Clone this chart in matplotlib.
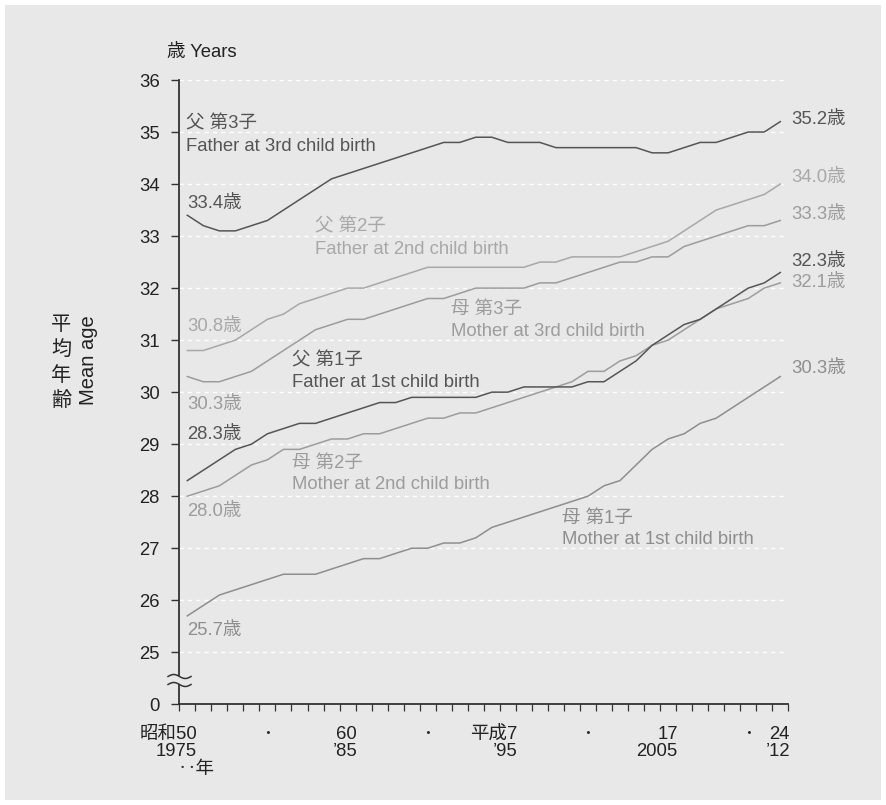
import numpy as np
import matplotlib
matplotlib.use("Agg")
import matplotlib.pyplot as plt
from matplotlib.patches import Rectangle

plt.rcParams['font.family'] = ['Liberation Sans', 'Noto Sans CJK JP', 'DejaVu Sans']

# ---------------- data ----------------
years = np.arange(1975, 2013)

father_3rd = [33.4, 33.2, 33.1, 33.1, 33.2, 33.3, 33.5, 33.7, 33.9, 34.1,
              34.2, 34.3, 34.4, 34.5, 34.6, 34.7, 34.8, 34.8, 34.9, 34.9,
              34.8, 34.8, 34.8, 34.7, 34.7, 34.7, 34.7, 34.7, 34.7, 34.6,
              34.6, 34.7, 34.8, 34.8, 34.9, 35.0, 35.0, 35.2]
father_2nd = [30.8, 30.8, 30.9, 31.0, 31.2, 31.4, 31.5, 31.7, 31.8, 31.9,
              32.0, 32.0, 32.1, 32.2, 32.3, 32.4, 32.4, 32.4, 32.4, 32.4,
              32.4, 32.4, 32.5, 32.5, 32.6, 32.6, 32.6, 32.6, 32.7, 32.8,
              32.9, 33.1, 33.3, 33.5, 33.6, 33.7, 33.8, 34.0]
mother_3rd = [30.3, 30.2, 30.2, 30.3, 30.4, 30.6, 30.8, 31.0, 31.2, 31.3,
              31.4, 31.4, 31.5, 31.6, 31.7, 31.8, 31.8, 31.9, 32.0, 32.0,
              32.0, 32.0, 32.1, 32.1, 32.2, 32.3, 32.4, 32.5, 32.5, 32.6,
              32.6, 32.8, 32.9, 33.0, 33.1, 33.2, 33.2, 33.3]
father_1st = [28.3, 28.5, 28.7, 28.9, 29.0, 29.2, 29.3, 29.4, 29.4, 29.5,
              29.6, 29.7, 29.8, 29.8, 29.9, 29.9, 29.9, 29.9, 29.9, 30.0,
              30.0, 30.1, 30.1, 30.1, 30.1, 30.2, 30.2, 30.4, 30.6, 30.9,
              31.1, 31.3, 31.4, 31.6, 31.8, 32.0, 32.1, 32.3]
mother_2nd = [28.0, 28.1, 28.2, 28.4, 28.6, 28.7, 28.9, 28.9, 29.0, 29.1,
              29.1, 29.2, 29.2, 29.3, 29.4, 29.5, 29.5, 29.6, 29.6, 29.7,
              29.8, 29.9, 30.0, 30.1, 30.2, 30.4, 30.4, 30.6, 30.7, 30.9,
              31.0, 31.2, 31.4, 31.6, 31.7, 31.8, 32.0, 32.1]
mother_1st = [25.7, 25.9, 26.1, 26.2, 26.3, 26.4, 26.5, 26.5, 26.5, 26.6,
              26.7, 26.8, 26.8, 26.9, 27.0, 27.0, 27.1, 27.1, 27.2, 27.4,
              27.5, 27.6, 27.7, 27.8, 27.9, 28.0, 28.2, 28.3, 28.6, 28.9,
              29.1, 29.2, 29.4, 29.5, 29.7, 29.9, 30.1, 30.3]

series_names_jp = ["父 第3子", "父 第2子", "母 第3子", "父 第1子", "母 第2子", "母 第1子"]
series_names_en = ["Father at 3rd child birth", "Father at 2nd child birth",
                   "Mother at 3rd child birth", "Father at 1st child birth",
                   "Mother at 2nd child birth", "Mother at 1st child birth"]

xlabels_row1 = ["昭和50", "・", "60", "・", "平成7", "・", "17", "・", "24"]
xlabels_row1_years = [1975, 1980, 1985, 1990, 1995, 2000, 2005, 2010, 2012]
xlabels_row2 = ["1975", "’85", "’95", "2005", "’12"]
xlabels_row2_years = [1975, 1985, 1995, 2005, 2012]

yticks = [25, 26, 27, 28, 29, 30, 31, 32, 33, 34, 35, 36]

# ---------------- style ----------------
BG = '#e8e8e8'
DARK = '#555555'
C_F3 = '#555555'
C_F2 = '#a8a8a8'
C_M3 = '#9c9c9c'
C_F1 = '#555555'
C_M2 = '#9c9c9c'
C_M1 = '#8e8e8e'
FS = 13.3

fig = plt.figure(figsize=(8.86, 8.05), dpi=100)
fig.patch.set_facecolor('white')
fig.patches.append(Rectangle((5 / 886, 5 / 805), 876 / 886, 795 / 805,
                             transform=fig.transFigure, facecolor=BG,
                             edgecolor='none', zorder=-5))

ax = fig.add_axes([179.3 / 886, 1 - 704.3 / 805, (788.3 - 179.3) / 886, (704.3 - 80) / 805])
ax.set_zorder(1)
ax.set_facecolor(BG)
ax.set_xlim(1974.5, 2012.5)
ax.set_ylim(24, 36)

for s in ['top', 'right']:
    ax.spines[s].set_visible(False)
for s in ['left', 'bottom']:
    ax.spines[s].set_color('#333333')
    ax.spines[s].set_linewidth(1.3)

# grid
for v in yticks:
    ax.axhline(v, color='white', lw=1.0, ls=(0, (3, 3)), zorder=1)

# y ticks
ax.set_yticks([24] + yticks)
ax.set_yticklabels(['0'] + [str(v) for v in yticks], fontsize=FS, color='#222222')
ax.tick_params(axis='y', direction='out', length=6, width=1.0, color='#333333', pad=8)

# x ticks at half-year boundaries
ax.set_xticks(np.arange(1974.5, 2013.0, 1.0))
ax.set_xticklabels([])
ax.tick_params(axis='x', direction='out', length=5, width=0.9, color='#333333')

# lines
series = [father_3rd, father_2nd, mother_3rd, father_1st, mother_2nd, mother_1st]
colors = [C_F3, C_F2, C_M3, C_F1, C_M2, C_M1]
order = [1, 2, 4, 5, 0, 3]
for i in order:
    ax.plot(years, series[i], color=colors[i], lw=1.1, zorder=3 + (1 if colors[i] == DARK else 0))

# series labels (jp line, en line)
label_pos = [
    (1974.9, 35.15, 34.73),
    (1982.98, 33.18, 32.75),
    (1991.48, 31.59, 31.16),
    (1981.54, 30.60, 30.19),
    (1981.54, 28.63, 28.22),
    (1998.36, 27.58, 27.17),
]
for i, (x, yj, ye) in enumerate(label_pos):
    ax.text(x, yj, series_names_jp[i], fontsize=FS, color=colors[i], ha='left', va='center', zorder=5)
    ax.text(x, ye, series_names_en[i], fontsize=FS, color=colors[i], ha='left', va='center', zorder=5)

# start-value labels
start_pos = [33.62, 31.26, 29.76, 29.19, 27.71, 25.42]
for i in range(6):
    ax.text(1975.0, start_pos[i], f"{series[i][0]:.1f}歳", fontsize=FS, color=colors[i],
            ha='left', va='center', zorder=5)

# end-value labels
end_pos = [35.25, 34.13, 33.42, 32.51, 32.11, 30.46]
for i in range(6):
    ax.text(2012.69, end_pos[i], f"{series[i][-1]:.1f}歳", fontsize=FS, color=colors[i],
            ha='left', va='center', zorder=5, clip_on=False)

# x labels
xt = ax.get_xaxis_transform()
for yr, lab in zip(xlabels_row1_years, xlabels_row1):
    if lab == "・":
        ax.text(yr, -0.0476, lab, fontsize=FS * 0.8, color='#222222', ha='center', va='center',
                transform=xt, clip_on=False)
    else:
        ax.text(yr + 0.6, -0.0476, lab, fontsize=FS, color='#222222', ha='right', va='center',
                transform=xt, clip_on=False)
for yr, lab in zip(xlabels_row2_years, xlabels_row2):
    ax.text(yr + 0.6, -0.0764, lab, fontsize=FS, color='#222222', ha='right', va='center',
            transform=xt, clip_on=False)
ax.text(1974.4, -0.105, "‥年", fontsize=FS, color='#222222', ha='left', va='center',
        transform=xt, clip_on=False)

# unit label
fig.text(167 / 886, 1 - 52 / 805, "歳 Years", fontsize=FS, color='#222222', ha='left', va='center')

# y-axis labels
for k, ch in enumerate("平均年齢"):
    fig.text(61 / 886, 1 - (324 + k * 25.5) / 805, ch, fontsize=14.5, color='#222222',
             ha='center', va='center')
fig.text(89 / 886, 1 - 360 / 805, "Mean age", fontsize=14.5, color='#222222', rotation=90,
         ha='center', va='center')

# axis break symbol (drawn in figure pixels, on top of the spine)
tr = fig.transFigure
xs = np.linspace(168, 191, 60)
wave = 2.0 * np.sin((xs - 168) / 23 * 2 * np.pi)
w1 = 676.5 - wave
w2 = 684.5 - wave
xf = xs / 886
gap = plt.Polygon(np.column_stack([np.concatenate([xf, xf[::-1]]),
                                   np.concatenate([1 - w1 / 805, (1 - w2 / 805)[::-1]])]),
                  closed=True, transform=tr, facecolor=BG, edgecolor='none', zorder=10)
fig.add_artist(gap)
fig.add_artist(plt.Line2D(xf, 1 - w1 / 805, transform=tr, color='#333333', lw=1.1, zorder=11))
fig.add_artist(plt.Line2D(xf, 1 - w2 / 805, transform=tr, color='#333333', lw=1.1, zorder=11))

fig.savefig("out.png", dpi=100, facecolor=fig.get_facecolor())
